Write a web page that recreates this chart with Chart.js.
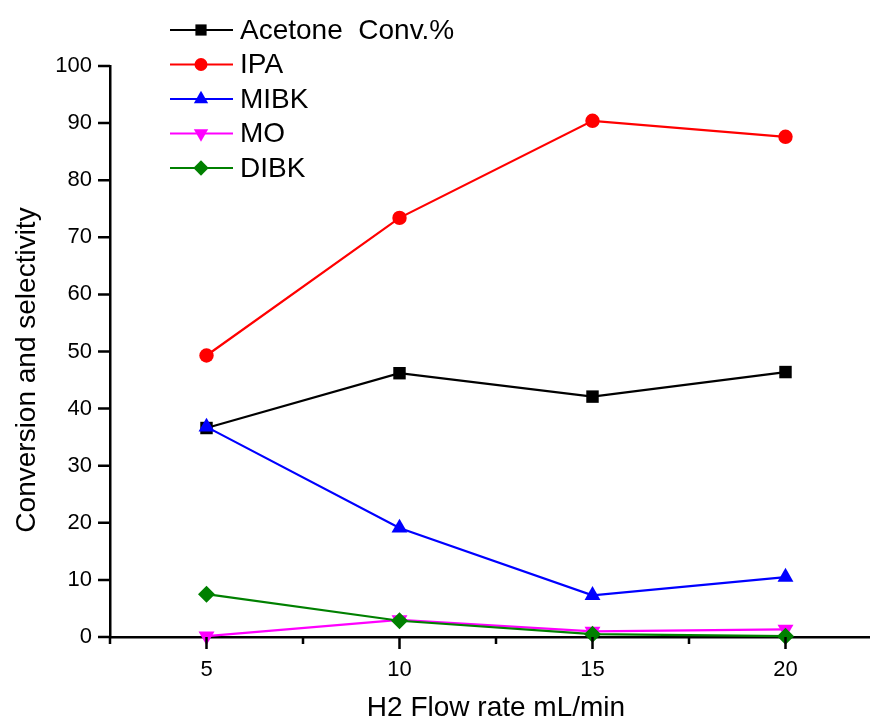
<!DOCTYPE html>
<html>
<head>
<meta charset="utf-8">
<script src="https://cdn.jsdelivr.net/npm/chart.js@4.4.1/dist/chart.umd.min.js"></script>
<style>
  html, body { margin: 0; padding: 0; background: #fff; overflow: hidden; }
  #chart { display: block; }
</style>
</head>
<body>
<canvas id="chart" width="902" height="720"></canvas>
<script>
// data
const flowRates = [5, 10, 15, 20];
const acetoneConv = [36.6, 46.2, 42.1, 46.4];
const ipaSel = [49.3, 73.4, 90.4, 87.6];
const mibkSel = [36.8, 19.1, 7.3, 10.5];
const moSel = [0.15, 3.0, 1.0, 1.35];
const dibkSel = [7.5, 2.85, 0.5, 0.15];

const seriesNames = ["Acetone  Conv.%", "IPA", "MIBK", "MO", "DIBK"];
const xTitle = "H2 Flow rate mL/min";
const yTitle = "Conversion and selectivity";

const FONT = "'Liberation Sans', Arial, Helvetica, sans-serif";

function pts(vals) {
  return vals.map((v, i) => ({ x: flowRates[i], y: v }));
}

function makeSet(label, vals, color, style, radius, rotation, order) {
  return {
    label: label,
    data: pts(vals),
    borderColor: color,
    backgroundColor: color,
    borderWidth: 2.2,
    pointStyle: style,
    pointRadius: radius,
    pointHoverRadius: radius,
    pointRotation: rotation,
    pointBorderWidth: 0,
    tension: 0,
    clip: false,
    order: order,
  };
}

// axis ticks (major/minor), legend and y title drawn by hand
const origin = {
  id: "originLook",
  afterDraw(chart) {
    const ctx = chart.ctx;
    const xs = chart.scales.x;
    const ys = chart.scales.y;
    const left = chart.chartArea.left;
    const bottom = chart.chartArea.bottom;

    ctx.save();
    ctx.strokeStyle = "#000";
    ctx.lineWidth = 2.5;
    ctx.beginPath();
    ys.ticks.forEach((t) => {
      const y = ys.getPixelForValue(t.value);
      const len = t.value % 10 === 0 ? 12 : 6.5;
      ctx.moveTo(left, y);
      ctx.lineTo(left - len, y);
    });
    xs.ticks.forEach((t) => {
      const x = xs.getPixelForValue(t.value);
      const len = t.value % 5 === 0 ? 12 : 7;
      ctx.moveTo(x, bottom);
      ctx.lineTo(x, bottom + len);
    });
    ctx.stroke();

    // legend
    ctx.font = "28px " + FONT;
    ctx.textBaseline = "middle";
    chart.data.datasets.forEach((ds, i) => {
      const y = 30 + i * 34.5;
      ctx.strokeStyle = ds.borderColor;
      ctx.lineWidth = 2.2;
      ctx.beginPath();
      ctx.moveTo(170, y);
      ctx.lineTo(233, y);
      ctx.stroke();
      ctx.fillStyle = ds.backgroundColor;
      Chart.helpers.drawPoint(
        ctx,
        { pointStyle: ds.pointStyle, radius: ds.pointRadius * 0.9, rotation: ds.pointRotation, borderWidth: 0 },
        201,
        y
      );
      ctx.fillStyle = "#000";
      ctx.textAlign = "left";
      ctx.fillText(ds.label, 240, y + 1);
    });

    // y title
    ctx.translate(26, 370);
    ctx.rotate(-Math.PI / 2);
    ctx.textAlign = "center";
    ctx.font = "28px " + FONT;
    ctx.fillText(yTitle, 0, 1);
    ctx.restore();
  },
};

new Chart(document.getElementById("chart"), {
  type: "line",
  data: {
    datasets: [
      makeSet(seriesNames[0], acetoneConv, "#000000", "rect", 8.8, 0, 5),
      makeSet(seriesNames[1], ipaSel, "#ff0000", "circle", 7.2, 0, 4),
      makeSet(seriesNames[2], mibkSel, "#0000ff", "triangle", 9.2, 0, 3),
      makeSet(seriesNames[3], moSel, "#ff00ff", "triangle", 9.2, 180, 2),
      makeSet(seriesNames[4], dibkSel, "#008000", "rectRot", 8.5, 0, 1),
    ],
  },
  options: {
    responsive: false,
    animation: false,
    events: [],
    // right padding is taken by the x tick padding (20) -> plot ends at 882
    layout: { padding: { top: 66, right: 8, left: 0, bottom: 0 } },
    plugins: { legend: { display: false }, tooltip: { enabled: false } },
    scales: {
      x: {
        type: "linear",
        min: 2.5,
        max: 22.5,
        afterFit(scale) { scale.height = 83; },
        grid: { display: false, drawTicks: false },
        border: { display: true, color: "#000", width: 2.5 },
        ticks: {
          stepSize: 2.5,
          padding: 20,
          color: "#000",
          font: { family: FONT, size: 22 },
          callback: (v) => (v % 5 === 0 ? v : ""),
        },
        title: {
          display: true,
          text: xTitle,
          color: "#000",
          font: { family: FONT, size: 28, lineHeight: 1 },
          padding: { top: 0, bottom: -2 },
        },
      },
      y: {
        min: 0,
        max: 100,
        afterFit(scale) { scale.width = 110; },
        grid: { display: false, drawTicks: false },
        border: { display: true, color: "#000", width: 2.5 },
        ticks: {
          stepSize: 5,
          padding: 18,
          color: "#000",
          font: { family: FONT, size: 22 },
          callback: (v) => (v % 10 === 0 ? v : ""),
        },
      },
    },
  },
  plugins: [origin],
});
</script>
</body>
</html>
